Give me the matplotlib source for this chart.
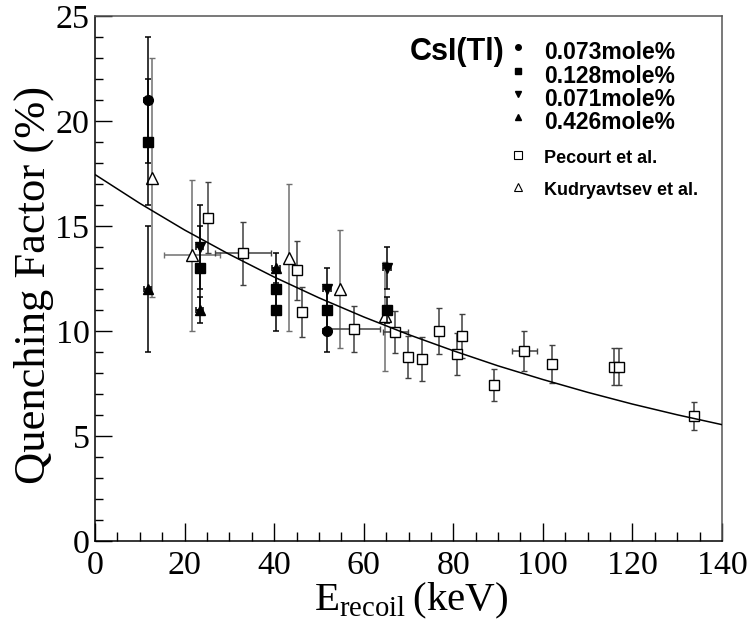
import matplotlib

matplotlib.use('Agg')
from matplotlib import pyplot as plt
from matplotlib.ticker import MultipleLocator

plt.rcParams['font.family'] = 'Liberation Serif'
plt.rcParams['mathtext.fontset'] = 'custom'
plt.rcParams['mathtext.rm'] = 'Liberation Serif'

# CsI(Tl) crystals, by Tl concentration
e_073 = [11.8, 51.8]
q_073 = [21.0, 10.0]
qerr_073 = [3.0, 1.0]

e_128 = [11.8, 23.4, 40.4, 40.4, 51.8, 65.2]
q_128 = [19.0, 13.0, 12.0, 11.0, 11.0, 11.0]
qerr_128 = [3.0, 2.0, 1.0, 1.0, 1.0, 0.6]

e_071 = [23.4, 51.8, 65.2]
q_071 = [14.0, 12.0, 13.0]
qerr_071 = [2.0, 1.0, 1.0]

e_426 = [11.8, 23.4, 40.4]
q_426 = [12.0, 11.0, 13.0]
qerr_426 = [3.0, 0.6, 0.7]

eerr_black = 0.8

# Pecourt et al.
e_pec = [25.2, 33.0, 45.0, 46.2, 57.8, 67.0, 69.9, 73.0, 76.8, 80.8, 81.9, 89.1, 95.8, 102.0, 115.9, 117.0, 133.7]
q_pec = [15.4, 13.7, 12.9, 10.9, 10.1, 9.95, 8.76, 8.67, 10.0, 8.9, 9.76, 7.43, 9.05, 8.43, 8.29, 8.29, 5.95]
qerr_pec = [1.7, 1.5, 1.4, 1.2, 1.1, 1.0, 1.0, 1.05, 1.1, 1.0, 1.05, 0.76, 0.95, 0.9, 0.88, 0.88, 0.65]
eerr_pec = [0, 6.2, 0, 0, 5.8, 2.8, 0, 0, 0, 0, 0, 0, 2.8, 0, 0, 0, 0]

# Kudryavtsev et al.
e_kud = [12.7, 21.6, 43.3, 54.7, 64.7]
q_kud = [17.3, 13.6, 13.5, 12.0, 10.7]
qerr_kud = [5.7, 3.6, 3.5, 2.8, 2.6]
eerr_kud = [0, 6.2, 0, 0, 0]

# fitted curve
fit_e = [0, 10, 20, 30, 40, 50, 60, 70, 80, 90, 100, 110, 120, 130, 140]
fit_q = [17.45, 16.08, 14.81, 13.65, 12.57, 11.58, 10.67, 9.83, 9.06, 8.34, 7.69, 7.08, 6.52, 6.01, 5.54]

fig = plt.figure(figsize=(7.48, 6.42), dpi=100)
ax = fig.add_axes([95 / 748, 101 / 642, 627 / 748, 525 / 642])

bar_kw = dict(linestyle='none', elinewidth=1.1, capsize=2.5, capthick=1.1)
ax.errorbar(e_kud, q_kud, yerr=qerr_kud, xerr=eerr_kud, marker='^', ms=8, mfc='white', mec='black',
            mew=1.0, ecolor='#707070', zorder=2, **bar_kw)
ax.errorbar(e_pec, q_pec, yerr=qerr_pec, xerr=eerr_pec, marker='s', ms=7, mfc='white', mec='black',
            mew=1.0, ecolor='#404040', zorder=2, **bar_kw)
ax.errorbar(e_073, q_073, yerr=qerr_073, xerr=eerr_black, marker='o', ms=7, color='black', zorder=3, **bar_kw)
ax.errorbar(e_128, q_128, yerr=qerr_128, xerr=eerr_black, marker='s', ms=6.5, color='black', zorder=3, **bar_kw)
ax.errorbar(e_071, q_071, yerr=qerr_071, xerr=eerr_black, marker='v', ms=7, color='black', zorder=3, **bar_kw)
ax.errorbar(e_426, q_426, yerr=qerr_426, xerr=eerr_black, marker='^', ms=7, color='black', zorder=3, **bar_kw)

ax.plot(fit_e, fit_q, color='black', linewidth=1.1, zorder=4)

ax.set_xlim(0, 140)
ax.set_ylim(0, 25)
ax.xaxis.set_major_locator(MultipleLocator(20))
ax.xaxis.set_minor_locator(MultipleLocator(5))
ax.yaxis.set_major_locator(MultipleLocator(5))
ax.yaxis.set_minor_locator(MultipleLocator(1))
ax.tick_params(which='both', direction='in', top=False, right=False, labelsize=24.5, width=1.0)
ax.tick_params(axis='y', which='major', length=12, pad=4)
ax.tick_params(axis='y', which='minor', length=6)
ax.tick_params(axis='x', which='major', length=13, pad=7)
ax.tick_params(axis='x', which='minor', length=6.5)
for side in ['left', 'bottom']:
    ax.spines[side].set_linewidth(1.1)
for side in ['top', 'right']:
    ax.spines[side].set_color('#555555')
    ax.spines[side].set_linewidth(1.1)

ax.set_ylabel('Quenching Factor (%)', fontsize=32)
ax.yaxis.set_label_coords(-0.066, 0.488)
ax.set_xlabel(r'$\mathrm{E}_{\mathrm{recoil}}\,\mathrm{(keV)}$', fontsize=29.5)
ax.xaxis.set_label_coords(0.505, -0.076)

# hand-made legend
lab_font = dict(family='Liberation Sans', weight='bold')
ax.text(0.502, 0.916, 'CsI(Tl)', fontsize=22, transform=ax.transAxes, **lab_font)
rows = [('0.073mole%', 'o', 0.918), ('0.128mole%', 's', 0.873),
        ('0.071mole%', 'v', 0.829), ('0.426mole%', '^', 0.785)]
for label, mk, yb in rows:
    ax.text(0.716, yb, label, fontsize=16.5, transform=ax.transAxes, **lab_font)
    ax.plot([0.675], [yb + 0.022], marker=mk, ms=4, color='black', transform=ax.transAxes, clip_on=False)
ax.text(0.716, 0.720, 'Pecourt et al.', fontsize=13, transform=ax.transAxes, **lab_font)
ax.plot([0.675], [0.735], marker='s', ms=5.5, mfc='white', mec='black', mew=0.8,
        transform=ax.transAxes, clip_on=False)
ax.text(0.716, 0.659, 'Kudryavtsev et al.', fontsize=13, transform=ax.transAxes, **lab_font)
ax.plot([0.675], [0.674], marker='^', ms=6, mfc='white', mec='black', mew=0.8,
        transform=ax.transAxes, clip_on=False)

plt.savefig('out.png', dpi=100)
plt.close('all')
